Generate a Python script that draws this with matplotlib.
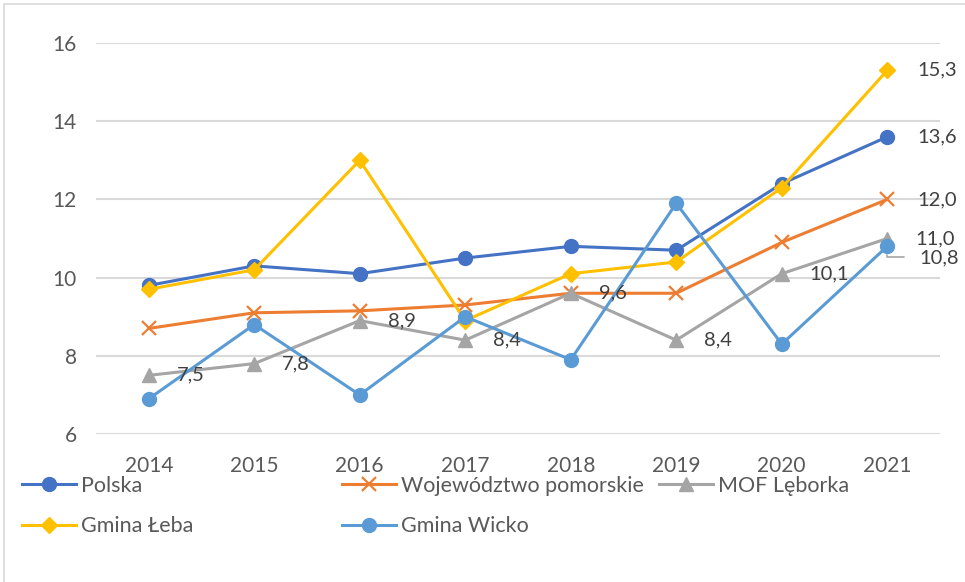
import matplotlib
matplotlib.use("Agg")
import matplotlib.pyplot as plt
from matplotlib.patches import Rectangle

plt.rcParams['font.family'] = ['Lato', 'DejaVu Sans']

years = ['2014', '2015', '2016', '2017', '2018', '2019', '2020', '2021']
polska = [9.8, 10.3, 10.1, 10.5, 10.8, 10.7, 12.4, 13.6]
pomorskie = [8.7, 9.1, 9.15, 9.3, 9.6, 9.6, 10.9, 12.0]
mof = [7.5, 7.8, 8.9, 8.4, 9.6, 8.4, 10.1, 11.0]
leba = [9.7, 10.2, 13.0, 8.9, 10.1, 10.4, 12.3, 15.3]
wicko = [6.9, 8.8, 7.0, 9.0, 7.9, 11.9, 8.3, 10.8]

fig = plt.figure(figsize=(9.65, 5.82), dpi=100)
ax = fig.add_axes([96/965, 1-434/582, (940-96)/965, (434-43)/582])

x = list(range(len(years)))
h1, = ax.plot(x, polska, color='#4472C4', lw=2.2, marker='o', ms=10, label='Polska')
h2, = ax.plot(x, pomorskie, color='#ED7D31', lw=2.2, marker='x', ms=10, mew=1.6,
              label='Województwo pomorskie')
h3, = ax.plot(x, mof, color='#A5A5A5', lw=2.2, marker='^', ms=10, label='MOF Lęborka')
h4, = ax.plot(x, leba, color='#FFC000', lw=2.2, marker='D', ms=8, label='Gmina Łeba')
h5, = ax.plot(x, wicko, color='#5B9BD5', lw=2.2, marker='o', ms=10, label='Gmina Wicko')

def fmt(v):
    return f'{v:.1f}'.replace('.', ',')

lab_kw = dict(textcoords='offset points', ha='left', va='center',
              fontsize=14.5, color='#404040')
for i, v in enumerate(mof):
    ax.annotate(fmt(v), (i, v), xytext=(20, 0), **lab_kw)
ax.annotate(fmt(polska[-1]), (7, polska[-1]), xytext=(22, 0), **lab_kw)
ax.annotate(fmt(pomorskie[-1]), (7, pomorskie[-1]), xytext=(22, 0), **lab_kw)
ax.annotate(fmt(leba[-1]), (7, leba[-1]), xytext=(22, 0), **lab_kw)
ax.annotate(fmt(wicko[-1]), (7, wicko[-1]), xytext=(23, -8),
            arrowprops=dict(arrowstyle='-', color='#A5A5A5', lw=1.2,
                            connectionstyle='angle,angleA=0,angleB=90,rad=0',
                            relpos=(0, 0.5), shrinkA=9, shrinkB=6),
            **lab_kw)

ax.set_xlim(-0.5, 7.5)
ax.set_ylim(6, 16)
ax.set_yticks([6, 8, 10, 12, 14, 16])
ax.set_xticks(x)
ax.set_xticklabels(years)
ax.tick_params(length=0, labelsize=15, labelcolor='#595959')
ax.tick_params(axis='y', pad=14)
ax.tick_params(axis='x', pad=16)
ax.grid(axis='y', color='#D9D9D9', lw=1.5)
ax.set_axisbelow(True)
for s in ax.spines.values():
    s.set_visible(False)

leg_kw = dict(loc='upper left', frameon=False, fontsize=15.5, handlelength=2.5,
              handletextpad=0.25, labelspacing=0.95, borderaxespad=0,
              borderpad=0, labelcolor='#595959')
fig.legend(handles=[h1, h4], bbox_to_anchor=(22/965, 1-476/582), **leg_kw)
fig.legend(handles=[h2, h5], bbox_to_anchor=(342/965, 1-476/582), **leg_kw)
fig.legend(handles=[h3], bbox_to_anchor=(659/965, 1-476/582), **leg_kw)

fig.patches.append(Rectangle((4/965, -0.05), 1.2, 1-4/582+0.05,
                             transform=fig.transFigure, fill=False,
                             edgecolor='#D9D9D9', lw=1.2))

fig.savefig('out.png', dpi=100)
